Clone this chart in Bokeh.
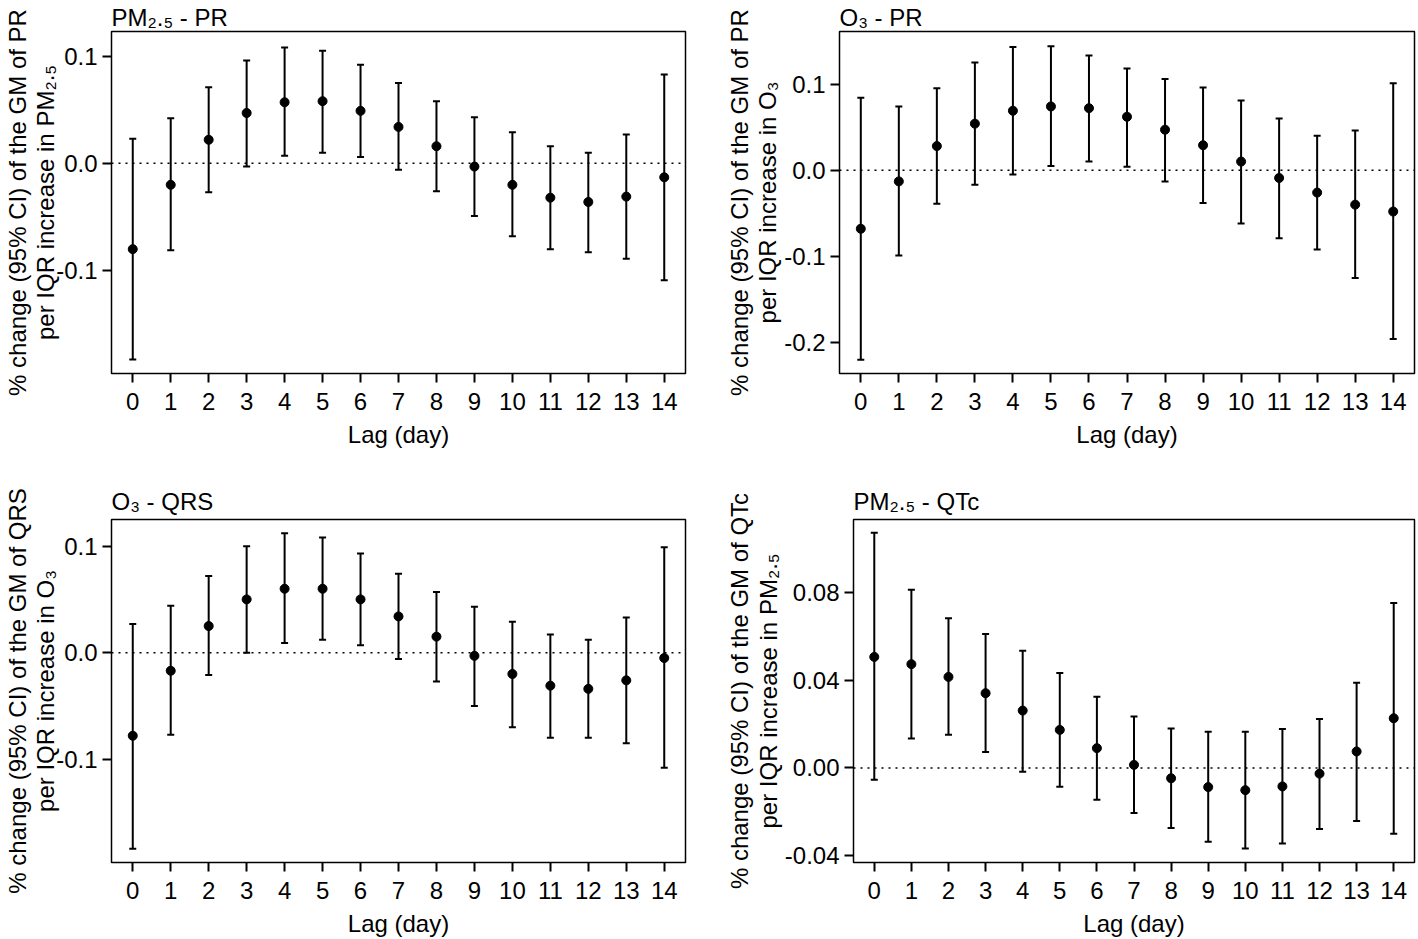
from bokeh.plotting import figure
from bokeh.models import ColumnDataSource, Whisker, TeeHead, Span, FixedTicker, PrintfTickFormatter, Range1d
from bokeh.layouts import column, row
from bokeh.embed import file_html
from bokeh.resources import INLINE

lags = list(range(15))

pm_pr_est = [-0.080, -0.020, 0.022, 0.047, 0.057, 0.058, 0.049, 0.034, 0.016, -0.003, -0.020, -0.032, -0.036, -0.031, -0.013]
pm_pr_lo = [-0.183, -0.081, -0.027, -0.003, 0.007, 0.010, 0.006, -0.006, -0.026, -0.049, -0.068, -0.080, -0.083, -0.089, -0.109]
pm_pr_hi = [0.023, 0.042, 0.071, 0.096, 0.108, 0.105, 0.092, 0.075, 0.058, 0.043, 0.029, 0.016, 0.010, 0.027, 0.083]

o3_pr_est = [-0.068, -0.013, 0.028, 0.054, 0.069, 0.074, 0.072, 0.062, 0.047, 0.029, 0.010, -0.009, -0.026, -0.040, -0.048]
o3_pr_lo = [-0.220, -0.099, -0.039, -0.017, -0.005, 0.005, 0.010, 0.004, -0.013, -0.038, -0.062, -0.079, -0.092, -0.125, -0.196]
o3_pr_hi = [0.084, 0.074, 0.095, 0.125, 0.143, 0.144, 0.133, 0.118, 0.106, 0.096, 0.081, 0.060, 0.040, 0.046, 0.101]

o3_qrs_est = [-0.078, -0.017, 0.025, 0.050, 0.060, 0.060, 0.050, 0.034, 0.015, -0.003, -0.020, -0.031, -0.034, -0.026, -0.005]
o3_qrs_lo = [-0.184, -0.077, -0.021, 0.000, 0.009, 0.012, 0.007, -0.006, -0.027, -0.050, -0.070, -0.080, -0.080, -0.085, -0.108]
o3_qrs_hi = [0.027, 0.044, 0.072, 0.100, 0.112, 0.108, 0.093, 0.074, 0.057, 0.043, 0.029, 0.017, 0.012, 0.033, 0.099]

pm_qtc_est = [0.0505, 0.0472, 0.0414, 0.0340, 0.0261, 0.0173, 0.0090, 0.0014, -0.0047, -0.0087, -0.0101, -0.0084, -0.0026, 0.0075, 0.0226]
pm_qtc_lo = [-0.0054, 0.0134, 0.0151, 0.0073, -0.0017, -0.0086, -0.0145, -0.0205, -0.0273, -0.0336, -0.0366, -0.0344, -0.0278, -0.0241, -0.0299]
pm_qtc_hi = [0.107, 0.081, 0.0681, 0.0609, 0.0533, 0.0432, 0.0324, 0.0234, 0.0180, 0.0165, 0.0165, 0.0177, 0.0223, 0.0388, 0.0750]

titles = ["PM\u2082.\u2085 - PR", "O\u2083 - PR", "O\u2083 - QRS", "PM\u2082.\u2085 - QTc"]
ylabels = [
    "% change (95% CI) of the GM of PR\nper IQR increase in PM\u2082.\u2085",
    "% change (95% CI) of the GM of PR\nper IQR increase in O\u2083",
    "% change (95% CI) of the GM of QRS\nper IQR increase in O\u2083",
    "% change (95% CI) of the GM of QTc\nper IQR increase in PM\u2082.\u2085",
]
xlabel = "Lag (day)"
yticks = [[-0.1, 0.0, 0.1], [-0.2, -0.1, 0.0, 0.1], [-0.1, 0.0, 0.1], [-0.04, 0.0, 0.04, 0.08]]
yfmts = ["%.1f", "%.1f", "%.1f", "%.2f"]
yranges = [(-0.196, 0.123), (-0.236, 0.161), (-0.197, 0.125), (-0.043, 0.113)]

FONT = "Liberation Sans"
FS = "24px"


def panel(i, est, lo, hi, width, height, bl, br, bt, bb, tstand, lstand):
    src = ColumnDataSource(dict(lag=lags, est=est, lo=lo, hi=hi))
    p = figure(width=width, height=height, output_backend="svg", toolbar_location=None,
               x_range=Range1d(-0.56, 14.56), y_range=Range1d(*yranges[i]),
               min_border_left=bl, min_border_right=br, min_border_top=bt, min_border_bottom=bb)
    p.title.text = titles[i]
    p.title.text_font = FONT
    p.title.text_font_size = FS
    p.title.text_font_style = "normal"
    p.title.text_color = "black"
    p.title.align = "left"
    p.title.offset = 0
    p.title.standoff = tstand
    p.grid.visible = False
    p.outline_line_color = "black"
    p.outline_line_width = 1.5
    p.outline_line_alpha = 1
    p.background_fill_color = "white"
    p.border_fill_color = "white"

    p.xaxis.ticker = FixedTicker(ticks=lags)
    p.yaxis.ticker = FixedTicker(ticks=yticks[i])
    p.yaxis.formatter = PrintfTickFormatter(format=yfmts[i])
    p.xaxis.axis_label = xlabel
    p.yaxis.axis_label = ylabels[i]
    for ax in (p.xaxis[0], p.yaxis[0]):
        ax.axis_line_color = None
        ax.major_tick_in = 0
        ax.major_tick_out = 9
        ax.major_tick_line_width = 2
        ax.major_tick_line_color = "black"
        ax.minor_tick_line_color = None
        ax.major_label_text_font = FONT
        ax.major_label_text_font_size = FS
        ax.major_label_text_color = "black"
        ax.axis_label_text_font = FONT
        ax.axis_label_text_font_size = FS
        ax.axis_label_text_font_style = "normal"
        ax.axis_label_text_color = "black"
    p.yaxis.axis_label_text_line_height = 1.05
    p.xaxis.major_label_standoff = 10
    p.xaxis.axis_label_standoff = 8
    p.yaxis.major_label_standoff = 5
    p.yaxis.axis_label_standoff = lstand

    p.add_layout(Span(location=0, dimension="width", line_color="black",
                      line_width=1.5, line_dash="2 5"))
    w = Whisker(source=src, base="lag", upper="hi", lower="lo", line_width=2, line_color="black",
                upper_head=TeeHead(size=7, line_width=2, line_color="black"),
                lower_head=TeeHead(size=7, line_width=2, line_color="black"))
    p.add_layout(w)
    p.scatter("lag", "est", source=src, size=9, color="black")
    return p


p1 = panel(0, pm_pr_est, pm_pr_lo, pm_pr_hi, 720, 478, 107, 35, 30, 105, 2, -6)
p2 = panel(1, o3_pr_est, o3_pr_lo, o3_pr_hi, 696, 478, 119, 2, 30, 105, 2, 0)
p3 = panel(2, o3_qrs_est, o3_qrs_lo, o3_qrs_hi, 720, 461, 107, 35, 41, 77, 9, -6)
p4 = panel(3, pm_qtc_est, pm_qtc_lo, pm_qtc_hi, 696, 461, 133, 2, 41, 77, 9, 0)

layout = column(row(p1, p2), row(p3, p4))
open("out.html", "w").write(file_html(layout, INLINE))
